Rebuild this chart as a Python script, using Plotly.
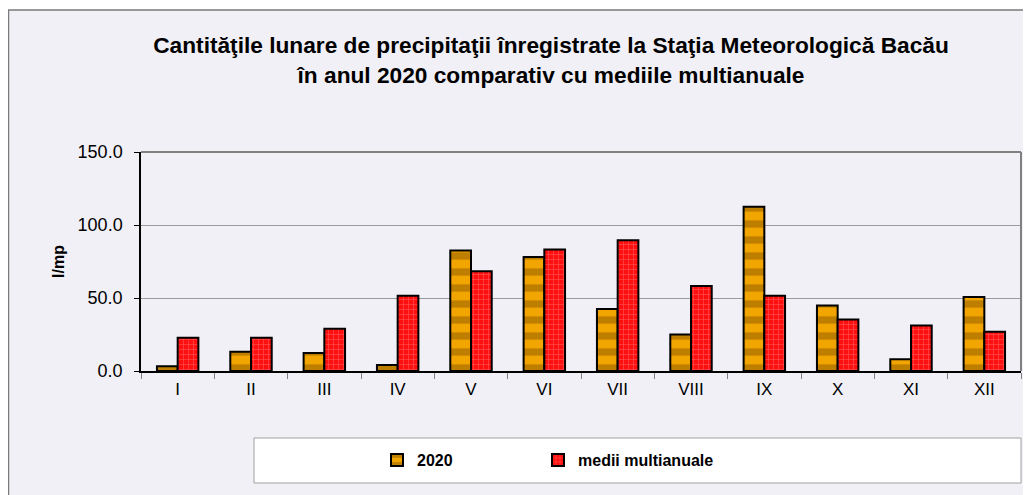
import plotly.graph_objects as go

months = ["I", "II", "III", "IV", "V", "VI", "VII", "VIII", "IX", "X", "XI", "XII"]
y2020 = [3.2, 13.2, 12.3, 4.1, 82.5, 78.0, 42.5, 25.0, 112.5, 44.8, 8.0, 50.7]
medii = [22.7, 22.7, 28.9, 51.6, 68.4, 83.2, 89.5, 58.2, 51.6, 35.2, 31.1, 26.8]
yticks = [0, 50, 100, 150]
ytick_text = ["0.0", "50.0", "100.0", "150.0"]

# the page body has an 8px margin; the figure is sized to fit the window
OFF = 8
W, H = 1031 - OFF, 495 - OFF
L, T = 141 - OFF, 152 - OFF
R = W - (1021 - OFF)
B = H - (371 - OFF)
pw, ph = W - L - R, H - T - B

def px2x(px):
    return (px - OFF - L) / pw

def py2y(py):
    return (H - B - (py - OFF)) / ph

FONT = "Liberation Sans, Arial, sans-serif"

fig = go.Figure()
fig.add_trace(go.Bar(
    x=months, y=y2020, name="2020", legend="legend",
    marker=dict(color="#e09a00", line=dict(color="#000000", width=2),
                pattern=dict(shape="-", fgcolor="#8a5a00", bgcolor="#f2a400", size=16, solidity=0.45)),
))
fig.add_trace(go.Bar(
    x=months, y=medii, name="medii multianuale", legend="legend2",
    marker=dict(color="#ff1a1a", line=dict(color="#000000", width=2),
                pattern=dict(shape="+", fgcolor="#ff8a8a", bgcolor="#ff1010", size=5, solidity=0.25)),
))

shapes = [
    # chart area background + border
    dict(type="rect", xref="paper", yref="paper",
         x0=px2x(8.5), x1=px2x(1040), y0=py2y(500), y1=py2y(10),
         line=dict(color="#7a7a7a", width=1.5), fillcolor="#f1f0f6", layer="below"),
    # legend box
    dict(type="rect", xref="paper", yref="paper",
         x0=px2x(254), x1=px2x(1021), y0=py2y(483), y1=py2y(438),
         line=dict(color="#a0a0a0", width=1), fillcolor="#ffffff", layer="below"),
    # plot frame top/right
    dict(type="line", xref="paper", yref="paper", x0=0, x1=1, y0=1, y1=1,
         line=dict(color="#808080", width=2)),
    dict(type="line", xref="paper", yref="paper", x0=1, x1=1, y0=0, y1=1,
         line=dict(color="#808080", width=2)),
]

legend_common = dict(
    orientation="h", xanchor="left", y=py2y(460), yanchor="middle",
    bgcolor="rgba(0,0,0,0)", font=dict(family=FONT, size=16, color="#000000", weight="bold"),
    itemwidth=30,
)

fig.update_layout(
    width=W, height=H,
    margin=dict(l=L, r=R, t=T, b=B),
    paper_bgcolor="#ffffff",
    plot_bgcolor="#ecefe0",
    font=dict(family=FONT, size=17, color="#000000"),
    title=dict(
        text="<b>Cantităţile lunare de precipitaţii înregistrate la Staţia Meteorologică Bacău<br>în anul 2020 comparativ cu mediile multianuale</b>",
        x=(551 - OFF) / W, xanchor="center", y=1 - (53 - OFF) / H, yanchor="middle",
        font=dict(family=FONT, size=22.7, color="#000000"),
    ),
    barmode="group",
    bargap=0.435,
    bargroupgap=0,
    showlegend=True,
    legend=dict(x=px2x(377), **legend_common),
    legend2=dict(x=px2x(538), **legend_common),
    shapes=shapes,
)
fig.update_xaxes(
    showline=True, linecolor="#000000", linewidth=1.5,
    ticks="outside", tickson="boundaries", ticklen=6, tickcolor="#808080",
    showgrid=False, tickfont=dict(size=17), ticklabelstandoff=2,
)
fig.update_yaxes(
    range=[0, 150], tickvals=yticks, ticktext=ytick_text,
    showline=True, linecolor="#000000", linewidth=1.5,
    ticks="outside", ticklen=5, tickcolor="#000000", ticklabelstandoff=8,
    showgrid=True, gridcolor="#9a9a9a", gridwidth=1,
    zeroline=False, tickfont=dict(size=18),
    title=dict(text="<b>l/mp</b>", font=dict(size=16), standoff=9),
)

fig.write_html("out.html")
